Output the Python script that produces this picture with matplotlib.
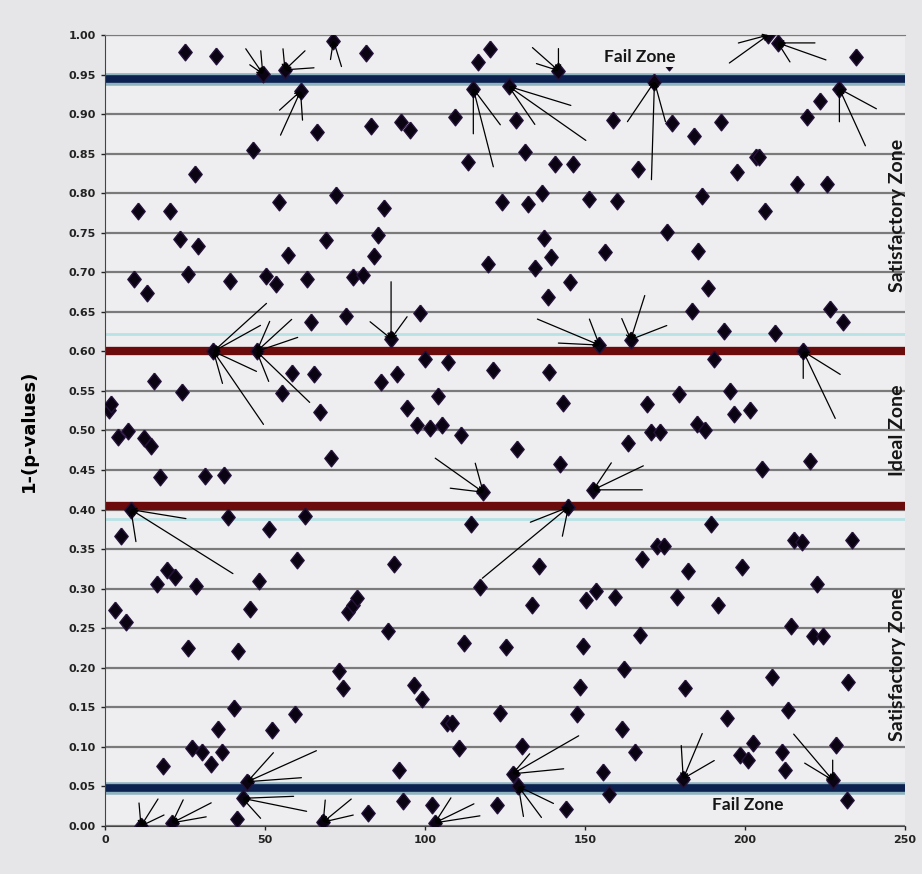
import matplotlib
matplotlib.use("Agg")
import matplotlib.pyplot as plt

# 1-(p-value) per test
x_vals = [1.25, 1.9, 3.1, 4.1, 5.0, 6.5, 7.3, 8.1, 9.2, 10.2, 11.25, 12.3, 13.0, 14.4, 15.4,
          16.1, 17.2, 18.2, 19.3, 20.3, 21.0, 21.9, 23.4, 24.2, 25.0, 25.8, 26.0, 27.3, 28.1,
          28.3, 29.2, 30.4, 31.25, 33.1, 33.9, 34.6, 35.2, 36.5, 37.3, 38.3, 39.2, 40.4, 41.3,
          41.7, 43.0, 44.5, 45.3, 46.1, 47.4, 48.2, 49.3, 50.3, 51.3, 52.1, 53.4, 54.5, 55.2,
          56.25, 57.3, 58.3, 59.4, 60.1, 61.1, 62.5, 63.2, 64.3, 65.3, 66.4, 67.2, 68.2, 69.0,
          70.5, 71.4, 72.2, 73.2, 74.3, 75.3, 76.0, 77.4, 77.5, 78.6, 80.5, 81.5, 82.3, 83.0,
          84.0, 85.2, 86.25, 87.3, 88.3, 89.4, 90.4, 91.1, 91.9, 92.5, 93.2, 94.3, 95.3, 96.7,
          97.4, 98.4, 99.2, 100.0, 101.6, 102.3, 103.1, 104.2, 105.4, 106.8, 107.3, 108.5,
          109.4, 110.6, 111.25, 112.3, 113.3, 114.4, 115.1, 116.5, 117.2, 118.2, 119.6, 120.3,
          121.4, 122.4, 123.4, 124.2, 125.2, 126.2, 127.4, 128.4, 128.9, 129.2, 130.2, 131.25,
          132.3, 133.3, 134.4, 135.7, 136.5, 137.2, 138.5, 138.8, 139.3, 140.6, 141.7, 142.2,
          143.2, 144.1, 144.8, 145.3, 146.4, 147.5, 148.4, 149.5, 150.3, 151.3, 152.6, 153.4,
          154.5, 155.5, 156.25, 157.6, 158.6, 159.4, 160.1, 161.5, 162.2, 163.5, 164.3, 165.6,
          166.5, 167.2, 167.9, 169.3, 170.6, 171.7, 172.4, 173.4, 174.8, 175.5, 176.25, 177.3,
          178.6, 179.4, 180.7, 181.25, 182.3, 183.5, 184.2, 185.4, 185.0, 186.5, 187.5, 188.5,
          189.4, 190.4, 191.7, 192.5, 193.5, 194.3, 195.3, 196.7, 197.4, 198.4, 199.2, 200.8,
          201.6, 202.6, 203.5, 204.3, 205.4, 206.4, 207.3, 208.3, 209.5, 210.3, 211.5, 212.5,
          213.5, 214.3, 215.3, 216.3, 217.7, 218.2, 219.5, 220.3, 221.1, 222.6, 223.4, 224.3,
          225.5, 226.6, 227.4, 228.4, 229.5, 230.7, 231.75, 232.3, 233.3, 234.7]
y_vals = [0.526, 0.534, 0.273, 0.492, 0.366, 0.258, 0.499, 0.400, 0.692, 0.778, 0.000, 0.490,
          0.674, 0.480, 0.562, 0.306, 0.441, 0.076, 0.324, 0.778, 0.004, 0.315, 0.742, 0.549,
          0.978, 0.225, 0.698, 0.098, 0.824, 0.303, 0.733, 0.093, 0.442, 0.078, 0.600, 0.973,
          0.123, 0.093, 0.444, 0.391, 0.689, 0.149, 0.009, 0.221, 0.035, 0.056, 0.274, 0.855,
          0.600, 0.310, 0.951, 0.695, 0.376, 0.121, 0.685, 0.789, 0.548, 0.956, 0.722, 0.573,
          0.142, 0.336, 0.929, 0.392, 0.691, 0.637, 0.571, 0.878, 0.524, 0.005, 0.741, 0.465,
          0.993, 0.798, 0.196, 0.174, 0.645, 0.271, 0.694, 0.280, 0.288, 0.697, 0.977, 0.016,
          0.885, 0.721, 0.747, 0.561, 0.781, 0.247, 0.616, 0.331, 0.571, 0.071, 0.890, 0.032,
          0.528, 0.880, 0.178, 0.507, 0.649, 0.161, 0.591, 0.503, 0.027, 0.004, 0.544, 0.507,
          0.130, 0.587, 0.130, 0.896, 0.098, 0.494, 0.231, 0.840, 0.382, 0.932, 0.966, 0.302,
          0.422, 0.711, 0.982, 0.577, 0.027, 0.143, 0.789, 0.226, 0.935, 0.066, 0.893, 0.476,
          0.050, 0.101, 0.852, 0.786, 0.279, 0.705, 0.329, 0.800, 0.743, 0.669, 0.574, 0.719,
          0.837, 0.955, 0.458, 0.535, 0.022, 0.403, 0.688, 0.837, 0.142, 0.176, 0.228, 0.286,
          0.793, 0.425, 0.297, 0.608, 0.068, 0.726, 0.040, 0.893, 0.290, 0.790, 0.122, 0.199,
          0.484, 0.615, 0.094, 0.831, 0.242, 0.338, 0.534, 0.498, 0.941, 0.354, 0.498, 0.354,
          0.751, 0.966, 0.889, 0.290, 0.546, 0.060, 0.174, 0.323, 0.651, 0.872, 0.727, 0.508,
          0.796, 0.501, 0.680, 0.382, 0.590, 0.279, 0.890, 0.626, 0.136, 0.550, 0.521, 0.827,
          0.090, 0.328, 0.084, 0.526, 0.105, 0.846, 0.846, 0.451, 0.778, 1.000, 0.189, 0.623,
          0.990, 0.093, 0.071, 0.147, 0.253, 0.362, 0.812, 0.359, 0.600, 0.896, 0.462, 0.240,
          0.306, 0.916, 0.240, 0.812, 0.654, 0.058, 0.102, 0.932, 0.637, 0.033, 0.182, 0.362,
          0.972]

fail_levels = [0.945, 0.048]
ideal_levels = [0.60, 0.405]

# points that the hand-drawn arrows point at, and where each arrow line starts (pixels)
arrow_targets = [(8.1, 0.400), (33.9, 0.600), (47.4, 0.600), (49.3, 0.951), (56.25, 0.956),
                 (61.1, 0.929), (71.4, 0.993), (89.4, 0.616), (115.1, 0.932), (126.2, 0.935),
                 (141.7, 0.955), (171.7, 0.941), (118.2, 0.422), (144.8, 0.403), (152.6, 0.425),
                 (154.5, 0.608), (164.3, 0.615), (218.2, 0.600), (207.3, 1.000), (210.3, 0.990),
                 (229.5, 0.932), (227.4, 0.058), (180.7, 0.060), (127.4, 0.066), (129.2, 0.050),
                 (103.1, 0.004), (44.5, 0.056), (43.0, 0.035), (68.2, 0.005), (11.25, 0.000),
                 (21.0, 0.004)]
arrow_offsets = [
    [(55, -9), (5, -32), (102, -64)],
    [(53, 48), (47, 26), (43, -20), (50, -73), (9, -32)],
    [(13, 30), (35, 32), (41, 14), (12, -30), (53, -51)],
    [(-17, 25), (-13, 9), (-2, 23)],
    [(-2, 21), (20, 19), (29, 2)],
    [(-21, -19), (-20, -44), (2, -29)],
    [(-3, -19), (8, -26)],
    [(0, 57), (-21, 17), (16, 22)],
    [(0, -45), (20, -78), (27, -36)],
    [(62, -19), (26, -38), (77, -54)],
    [(-26, 23), (-22, 7), (0, 22)],
    [(-3, -98), (-27, -40), (11, -40)],
    [(-48, 34), (-8, 29), (-33, 4)],
    [(-86, -71), (-38, -15), (-6, -29)],
    [(18, 27), (50, 24), (49, 0)],
    [(-62, 26), (-41, 2), (-10, 26)],
    [(14, 44), (36, 14), (-9, 21)],
    [(0, -27), (37, -23), (32, -67)],
    [(-30, -8), (-39, -28)],
    [(37, 0), (48, -17), (12, -19)],
    [(37, -20), (26, -57), (0, -33)],
    [(-39, 46), (-28, 17), (0, 20)],
    [(-2, 33), (19, 45), (31, 18)],
    [(66, 38), (51, 5), (17, 20)],
    [(5, -30), (23, -31), (35, -17)],
    [(16, 25), (39, 19), (45, 7)],
    [(26, 29), (69, 31), (54, 4)],
    [(51, 2), (64, -13), (18, -20)],
    [(2, 22), (28, 23), (30, 7)],
    [(-2, 23), (17, 27), (23, 11)],
    [(11, 23), (39, 20), (34, 6)],
]

plt.rcParams['font.family'] = ['DejaVu Sans']

fig = plt.figure(figsize=(9.22, 8.74), dpi=100, facecolor='#e6e6e8')
ax = fig.add_axes([105 / 922, 48 / 874, 800 / 922, 791 / 874])
ax.set_facecolor('#eeeef0')
ax.set_xlim(0, 250)
ax.set_ylim(0, 1.0)

# grid every 0.05
for i in range(21):
    ax.axhline(i * 0.05, color='#7a7a7a', lw=1.6, zorder=1)

# zone boundaries
for lvl in fail_levels:
    ax.axhline(lvl, color='#8fb2bf', lw=9, zorder=2)
    ax.axhline(lvl, color='#0c2150', lw=5.5, zorder=2)
ax.axhline(ideal_levels[0] + 0.022, color='#b9e2e6', lw=2, zorder=2)
ax.axhline(ideal_levels[1] - 0.017, color='#b9e2e6', lw=2, zorder=2)
for lvl in ideal_levels:
    ax.axhline(lvl, color='#6c0b0b', lw=6, zorder=2)

diamond = [(0, 1), (0.8, 0), (0, -1), (-0.8, 0), (0, 1)]
ax.plot(x_vals, y_vals, linestyle='none', marker=diamond, ms=12, mfc='#0a0312',
        mec='#24123a', mew=1.0, zorder=4)

for (tx, ty), tails in zip(arrow_targets, arrow_offsets):
    for dx, dy in tails:
        ax.annotate('', xy=(tx, ty), xytext=(dx, dy), textcoords='offset pixels',
                    arrowprops=dict(arrowstyle='->', color='black', lw=0.9,
                                    shrinkA=0, shrinkB=0, mutation_scale=8),
                    zorder=5)

zone_font = dict(color='#151515', fontweight='bold', family=['Lato', 'DejaVu Sans'])
ax.text(167.2, 0.972, 'Fail Zone', ha='center', va='center', zorder=6, fontsize=12.5,
        bbox=dict(facecolor='#eeeef0', edgecolor='none', pad=1), **zone_font)
ax.text(201, 0.026, 'Fail Zone', ha='center', va='center', zorder=6, fontsize=12.5,
        bbox=dict(facecolor='#eeeef0', edgecolor='none', pad=1), **zone_font)
ax.text(247.5, 0.772, 'Satisfactory Zone', rotation=90, ha='center', va='center',
        fontsize=14, **zone_font)
ax.text(247.5, 0.50, 'Ideal Zone', rotation=90, ha='center', va='center',
        fontsize=14, **zone_font)
ax.text(247.5, 0.204, 'Satisfactory Zone', rotation=90, ha='center', va='center',
        fontsize=14, **zone_font)

ax.set_yticks([i * 0.05 for i in range(21)])
ax.set_yticklabels(['%.2f' % (i * 0.05) for i in range(21)])
ax.set_xticks([0, 50, 100, 150, 200, 250])
ax.tick_params(axis='both', labelsize=8, length=3, width=1, colors='#222222')
for lab in ax.get_xticklabels() + ax.get_yticklabels():
    lab.set_fontweight('bold')
ax.set_ylabel('1-(p-values)', fontsize=13, fontweight='bold', labelpad=22)

ax.spines['right'].set_visible(False)
ax.spines['top'].set_color('#7a7a7a')
ax.spines['left'].set_color('#444444')
ax.spines['bottom'].set_color('#444444')

fig.savefig('out.png', dpi=100, facecolor=fig.get_facecolor())
